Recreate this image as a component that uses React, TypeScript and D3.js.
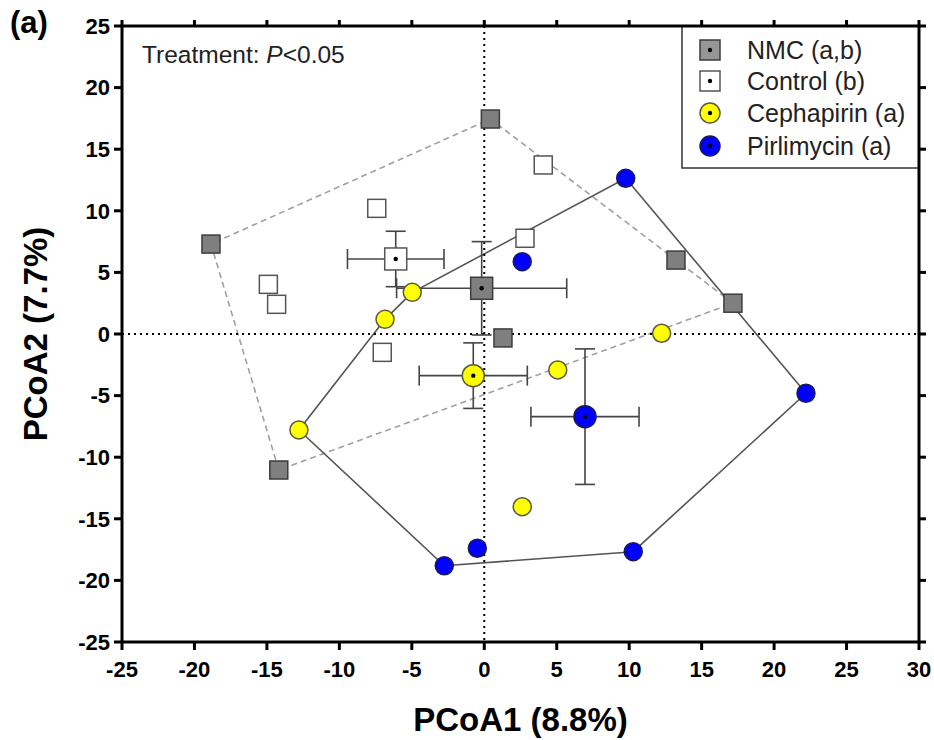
import React from 'react'
import * as d3 from 'd3'

const WIDTH = 934
const HEIGHT = 740
const LEFT = 122
const RIGHT = 919
const TOP = 26
const BOTTOM = 642
const FONT = '"Liberation Sans", Arial, sans-serif'

const X_TICKS = [-25, -20, -15, -10, -5, 0, 5, 10, 15, 20, 25, 30]
const Y_TICKS = [-25, -20, -15, -10, -5, 0, 5, 10, 15, 20, 25]

// individual samples
const nmcX = [-18.86, 0.42, 13.23, 17.16, 1.29, -14.18]
const nmcY = [7.3, 17.45, 6.0, 2.5, -0.32, -11.04]
const controlX = [4.07, -7.42, 2.81, -14.9, -14.33, -7.04]
const controlY = [13.72, 10.2, 7.77, 4.03, 2.41, -1.49]
const cephapirinX = [-4.97, -6.85, -12.79, 12.24, 5.07, 2.62]
const cephapirinY = [3.38, 1.19, -7.79, 0.06, -2.92, -14.02]
const pirlimycinX = [9.76, 2.62, 22.2, 10.28, -0.48, -2.76]
const pirlimycinY = [12.64, 5.87, -4.81, -17.67, -17.39, -18.81]

// group means with error (NMC, Control, Cephapirin, Pirlimycin)
const meanX = [-0.18, -6.11, -0.76, 6.95]
const meanY = [3.71, 6.09, -3.38, -6.71]
const errX = [5.87, 3.33, 3.73, 3.73]
const errY = [3.79, 2.25, 2.66, 5.5]

const LEGEND_LABELS = ['NMC (a,b)', 'Control (b)', 'Cephapirin (a)', 'Pirlimycin (a)']

const groups = [
  { xs: nmcX, ys: nmcY, shape: 'square', fill: '#7f7f7f', stroke: '#3c3c3c', legendFill: '#969696' },
  { xs: controlX, ys: controlY, shape: 'square', fill: '#ffffff', stroke: '#555555', legendFill: '#ffffff' },
  { xs: cephapirinX, ys: cephapirinY, shape: 'circle', fill: '#ffff00', stroke: '#5a5a3a', legendFill: '#ffff00' },
  { xs: pirlimycinX, ys: pirlimycinY, shape: 'circle', fill: '#0000ff', stroke: '#1a1a55', legendFill: '#0000ff' },
]

const x = d3.scaleLinear().domain([-25, 30]).range([LEFT, RIGHT])
const y = d3.scaleLinear().domain([-25, 25]).range([BOTTOM, TOP])

function Marker({ cx, cy, g, size, dot }) {
  const h = size / 2
  return (
    <g>
      {g.shape === 'square'
        ? <rect x={cx - h} y={cy - h} width={size} height={size} fill={g.fill} stroke={g.stroke} strokeWidth={1.5} />
        : <circle cx={cx} cy={cy} r={h} fill={g.fill} stroke={g.stroke} strokeWidth={1.5} />}
      {dot && <circle cx={cx} cy={cy} r={2.2} fill="#000" />}
    </g>
  )
}

export default function App() {
  const pts = (g) => g.xs.map((v, i) => [x(v), y(g.ys[i])])
  const hullLine = d3.line().curve(d3.curveLinearClosed)
  const nmcHull = d3.polygonHull(pts(groups[0]))
  const abHull = d3.polygonHull([...pts(groups[2]), ...pts(groups[3])])

  return (
    <svg width={WIDTH} height={HEIGHT} style={{ position: 'absolute', left: 0, top: 0, background: '#fff' }}
      fontFamily={FONT}>
      <rect width={WIDTH} height={HEIGHT} fill="#fff" />

      {/* hulls */}
      <path d={hullLine(nmcHull)} fill="none" stroke="#a0a0a0" strokeWidth={1.6} strokeDasharray="6,4" />
      <path d={hullLine(abHull)} fill="none" stroke="#555" strokeWidth={1.6} />

      {/* zero lines */}
      <line x1={x(0)} x2={x(0)} y1={TOP} y2={BOTTOM} stroke="#000" strokeWidth={2} strokeDasharray="2,4" />
      <line x1={LEFT} x2={RIGHT} y1={y(0)} y2={y(0)} stroke="#000" strokeWidth={2} strokeDasharray="2,4" />

      {/* error bars */}
      {meanX.map((mx, i) => {
        const cx = x(mx), cy = y(meanY[i])
        const x1 = x(mx - errX[i]), x2 = x(mx + errX[i])
        const y1 = y(meanY[i] + errY[i]), y2 = y(meanY[i] - errY[i])
        return (
          <g key={i} stroke="#444" strokeWidth={1.6}>
            <line x1={x1} x2={x2} y1={cy} y2={cy} />
            <line x1={x1} x2={x1} y1={cy - 10} y2={cy + 10} />
            <line x1={x2} x2={x2} y1={cy - 10} y2={cy + 10} />
            <line x1={cx} x2={cx} y1={y1} y2={y2} />
            <line x1={cx - 10} x2={cx + 10} y1={y1} y2={y1} />
            <line x1={cx - 10} x2={cx + 10} y1={y2} y2={y2} />
          </g>
        )
      })}

      {/* samples */}
      {groups.map((g, gi) => g.xs.map((v, i) => (
        <Marker key={gi + '-' + i} cx={x(v)} cy={y(g.ys[i])} g={g} size={18} dot={false} />
      )))}

      {/* means */}
      {meanX.map((mx, i) => (
        <Marker key={'m' + i} cx={x(mx)} cy={y(meanY[i])} g={groups[i]} size={22} dot={true} />
      ))}

      {/* legend */}
      <rect x={682} y={TOP} width={RIGHT - 682} height={168 - TOP} fill="#fff" stroke="#333" strokeWidth={1.5} />
      {LEGEND_LABELS.map((label, i) => {
        const cy = [50, 81, 113, 146][i]
        return (
          <g key={label}>
            <Marker cx={710} cy={cy} g={{ ...groups[i], fill: groups[i].legendFill }} size={20} dot={true} />
            <text x={747} y={cy} dy="0.35em" fontSize={25} fill="#222">{label}</text>
          </g>
        )
      })}

      {/* frame */}
      <rect x={LEFT} y={TOP} width={RIGHT - LEFT} height={BOTTOM - TOP} fill="none" stroke="#000" strokeWidth={3} />
      {X_TICKS.map(t => (
        <g key={'xt' + t} stroke="#000" strokeWidth={3}>
          <line x1={x(t)} x2={x(t)} y1={BOTTOM} y2={BOTTOM + 8} />
          <line x1={x(t)} x2={x(t)} y1={TOP} y2={TOP - 6} />
        </g>
      ))}
      {Y_TICKS.map(t => (
        <g key={'yt' + t} stroke="#000" strokeWidth={3}>
          <line x1={LEFT} x2={LEFT - 8} y1={y(t)} y2={y(t)} />
          <line x1={RIGHT} x2={RIGHT + 7} y1={y(t)} y2={y(t)} />
        </g>
      ))}
      {X_TICKS.map(t => (
        <text key={'xl' + t} x={x(t)} y={677} textAnchor="middle" fontSize={22} fontWeight="bold">{t}</text>
      ))}
      {Y_TICKS.map(t => (
        <text key={'yl' + t} x={110} y={y(t)} dy="0.35em" textAnchor="end" fontSize={22} fontWeight="bold">{t}</text>
      ))}

      {/* titles */}
      <text x={(LEFT + RIGHT) / 2} y={731} textAnchor="middle" fontSize={33} fontWeight="bold">PCoA1 (8.8%)</text>
      <text transform={`translate(47, ${(TOP + BOTTOM) / 2}) rotate(-90)`} textAnchor="middle" fontSize={33}
        fontWeight="bold">PCoA2 (7.7%)</text>
      <text x={10} y={33} fontSize={31} fontWeight="bold">(a)</text>
      <text x={142} y={63} fontSize={24.5} fill="#222">
        Treatment: <tspan fontStyle="italic">P</tspan>&lt;0.05
      </text>
    </svg>
  )
}
